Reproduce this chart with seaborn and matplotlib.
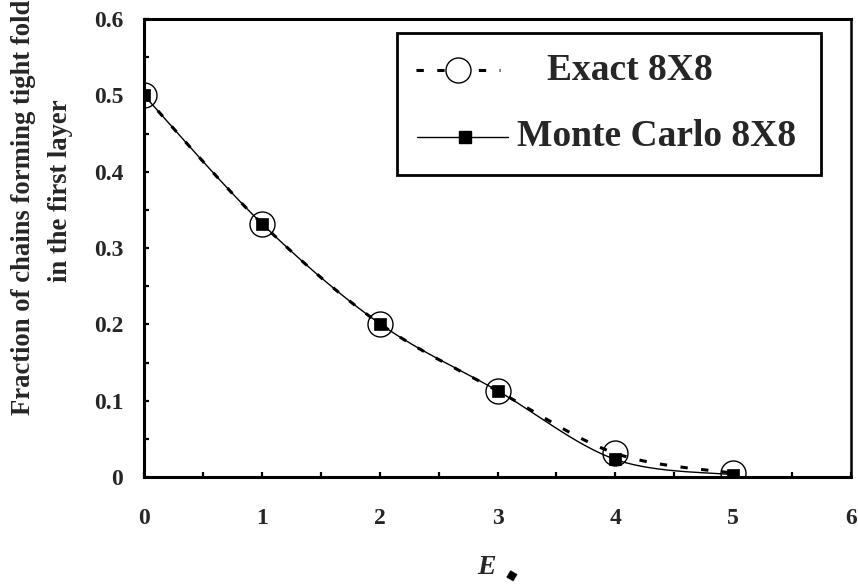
import numpy as np
import pandas as pd
import matplotlib
matplotlib.use("Agg")
import matplotlib.pyplot as plt
import seaborn as sns
from matplotlib.lines import Line2D
from matplotlib.patches import Rectangle
from matplotlib.ticker import MultipleLocator

# Fraction of chains forming tight folds in the first layer vs. energy E
energy = [0, 1, 2, 3, 4, 5]
exact_8x8 = [0.500, 0.332, 0.201, 0.113, 0.031, 0.005]
monte_carlo_8x8 = [0.500, 0.332, 0.201, 0.113, 0.023, 0.003]

x_ticks = [0, 1, 2, 3, 4, 5, 6]
x_tick_labels = ["0", "1", "2", "3", "4", "5", "6"]
y_ticks = [0.0, 0.1, 0.2, 0.3, 0.4, 0.5, 0.6]
y_tick_labels = ["0", "0.1", "0.2", "0.3", "0.4", "0.5", "0.6"]

legend_labels = ["Exact 8X8", "Monte Carlo 8X8"]
y_label_lines = ["Fraction of chains forming tight folds", "in the first layer"]
x_label = "E"

W, H = 858, 588
SERIF = ["Liberation Serif", "DejaVu Serif"]

sns.set_theme(style="white")
plt.rcParams["font.family"] = SERIF
plt.rcParams["font.weight"] = "bold"


def smooth_curve(x, y, n=60):
    """Piecewise cubic Bezier through the points (spreadsheet-style smoothing)."""
    x = np.asarray(x, float)
    y = np.asarray(y, float)
    pts = np.column_stack([x, y])
    t = np.linspace(0, 1, n)[:, None]
    out = []
    for i in range(len(pts) - 1):
        p0, p3 = pts[i], pts[i + 1]
        prev = pts[i - 1] if i > 0 else pts[i]
        nxt = pts[i + 2] if i + 2 < len(pts) else pts[i + 1]
        c1 = p0 + (p3 - prev) / 6.0
        c2 = p3 - (nxt - p0) / 6.0
        seg = ((1 - t) ** 3) * p0 + 3 * ((1 - t) ** 2) * t * c1 \
            + 3 * (1 - t) * t ** 2 * c2 + t ** 3 * p3
        out.append(seg if i == 0 else seg[1:])
    seg = np.vstack(out)
    return seg[:, 0], seg[:, 1]


fig = plt.figure(figsize=(W / 100, H / 100), dpi=100)
ax = fig.add_axes([144 / W, (H - 477) / H, (851 - 144) / W, (477 - 19) / H])

ex_x, ex_y = smooth_curve(energy, exact_8x8)
mc_x, mc_y = smooth_curve(energy, monte_carlo_8x8)
curves = pd.DataFrame({"E": ex_x, "frac": ex_y})
curves_mc = pd.DataFrame({"E": mc_x, "frac": mc_y})
points = pd.DataFrame({"E": energy, "exact": exact_8x8, "mc": monte_carlo_8x8})

# Exact: dashed smoothed line with open circles
sns.lineplot(data=curves, x="E", y="frac", ax=ax, sort=False, estimator=None,
             color="black", linewidth=2.2, linestyle=(0, (2.4, 4.4)))
# Monte Carlo: solid smoothed line with filled squares
sns.lineplot(data=curves_mc, x="E", y="frac", ax=ax, sort=False, estimator=None,
             color="black", linewidth=1.0)
sns.lineplot(data=points, x="E", y="exact", ax=ax, estimator=None, linestyle="none",
             marker="o", markersize=18, markerfacecolor="none",
             markeredgecolor="black", markeredgewidth=1.0, color="black")
sns.lineplot(data=points, x="E", y="mc", ax=ax, estimator=None, linestyle="none",
             marker="s", markersize=8.5, markerfacecolor="black",
             markeredgecolor="black", markeredgewidth=0.5, color="black")

ax.set_xlim(0, 6)
ax.set_ylim(0, 0.6)
ax.set_xticks(x_ticks)
ax.set_xticklabels(x_tick_labels)
ax.set_yticks(y_ticks)
ax.set_yticklabels(y_tick_labels)
ax.xaxis.set_minor_locator(MultipleLocator(0.5))
ax.yaxis.set_minor_locator(MultipleLocator(0.05))
ax.set_xlabel("")
ax.set_ylabel("")
ax.grid(False)

for side in ["left", "bottom", "top"]:
    ax.spines[side].set_linewidth(2.2)
    ax.spines[side].set_color("black")
ax.spines["right"].set_linewidth(1.8)
ax.spines["right"].set_color("black")

ax.tick_params(axis="both", which="both", direction="in", length=3.8, width=1.6,
               color="black", bottom=True, left=True, top=False, right=False)
ax.tick_params(axis="x", which="major", pad=22, labelsize=17)
ax.tick_params(axis="y", which="major", pad=15, labelsize=17)
for lab in ax.get_xticklabels() + ax.get_yticklabels():
    lab.set_fontweight("bold")
    lab.set_family(SERIF)


def fx(px):
    return px / W


def fy(py):
    return (H - py) / H


# Axis titles
fig.text(fx(24), fy(202), y_label_lines[0], rotation=90, ha="center", va="center",
         fontsize=19.2, fontweight="bold", family=SERIF)
fig.text(fx(61), fy(191), y_label_lines[1], rotation=90, ha="center", va="center",
         fontsize=19.2, fontweight="bold", family=SERIF)
fig.text(fx(486), fy(567), x_label, ha="center", va="center", fontsize=20,
         fontweight="bold", fontstyle="italic", family=SERIF)
fig.text(fx(512), fy(575), "\u25C6", ha="center", va="center", fontsize=11,
         rotation=15, family=["DejaVu Sans"], color="black")

# Legend box
fig.patches.append(Rectangle((fx(397), fy(175)), fx(821) - fx(397), fy(33) - fy(175),
                             transform=fig.transFigure, facecolor="white",
                             edgecolor="black", linewidth=2.0, zorder=5))
# Exact entry
fig.add_artist(Line2D([fx(416), fx(500)], [fy(70), fy(70)], transform=fig.transFigure,
                      color="black", linewidth=2.2, linestyle=(0, (2.4, 4.4)), zorder=6))
fig.add_artist(Line2D([fx(458)], [fy(70)], transform=fig.transFigure, marker="o",
                      markersize=18, markerfacecolor="white", markeredgecolor="black",
                      markeredgewidth=1.0, linestyle="none", zorder=7))
fig.text(fx(547), fy(70), legend_labels[0], ha="left", va="center", fontsize=27,
         fontweight="bold", family=SERIF, zorder=7)
# Monte Carlo entry
fig.add_artist(Line2D([fx(417), fx(508)], [fy(137), fy(137)], transform=fig.transFigure,
                      color="black", linewidth=1.0, zorder=6))
fig.add_artist(Line2D([fx(465)], [fy(137)], transform=fig.transFigure, marker="s",
                      markersize=8.5, markerfacecolor="black", markeredgecolor="black",
                      linestyle="none", zorder=7))
fig.text(fx(517), fy(137), legend_labels[1], ha="left", va="center", fontsize=27,
         fontweight="bold", family=SERIF, zorder=7)

fig.savefig("out.png", dpi=100, facecolor="white")
